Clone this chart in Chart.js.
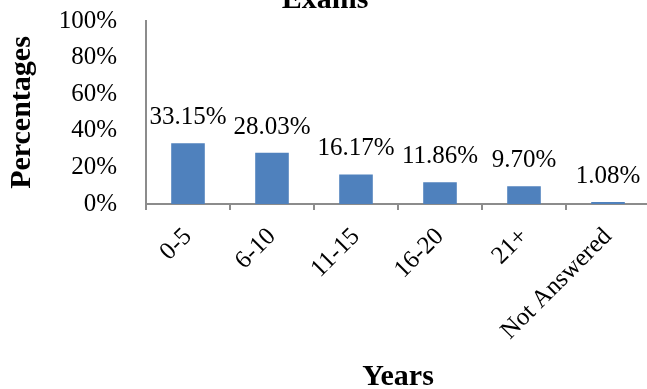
<!DOCTYPE html>
<html>
<head>
<meta charset="utf-8">
<script src="https://cdn.jsdelivr.net/npm/chart.js@4/dist/chart.umd.min.js"></script>
<style>
  html, body { margin: 0; padding: 0; background: #fff; }
  #frame { position: relative; width: 647px; height: 389px; overflow: hidden; background: #fff; }
  #holder { position: absolute; left: 0; top: -23px; width: 652px; height: 418px; }
</style>
</head>
<body>
<div id="frame"><div id="holder"><canvas id="chart"></canvas></div></div>
<script>
// Years of experience groups and the share of respondents in each
const categories = ['0-5', '6-10', '11-15', '16-20', '21+', 'Not Answered'];
const percentages = [33.15, 28.03, 16.17, 11.86, 9.70, 1.08];
const yTicks = [0, 20, 40, 60, 80, 100];

const serif = "'Liberation Serif', 'Times New Roman', serif";
const axisGray = '#8c8c8c';

// Writes each bar's value just above it
const valueLabels = {
  id: 'valueLabels',
  afterDatasetsDraw(chart) {
    const ctx = chart.ctx;
    const meta = chart.getDatasetMeta(0);
    ctx.save();
    ctx.font = '25px ' + serif;
    ctx.fillStyle = '#000';
    ctx.textAlign = 'center';
    ctx.textBaseline = 'alphabetic';
    meta.data.forEach((bar, i) => {
      const v = chart.data.datasets[0].data[i];
      ctx.fillText(v.toFixed(2) + '%', bar.x, bar.y - 19);
    });
    ctx.restore();
  }
};

new Chart(document.getElementById('chart'), {
  type: 'bar',
  data: {
    labels: categories,
    datasets: [{
      data: percentages,
      backgroundColor: '#4f81bd',
      borderWidth: 0,
      barPercentage: 0.4,
      categoryPercentage: 1.0
    }]
  },
  options: {
    responsive: true,
    maintainAspectRatio: false,
    animation: false,
    layout: { padding: { left: 0, right: 2, top: 0, bottom: 0 } },
    plugins: {
      legend: { display: false },
      tooltip: { enabled: false },
      title: {
        display: true,
        text: 'Exams',
        color: '#000',
        font: { family: serif, size: 30, weight: 'bold', lineHeight: 1.2 },
        padding: { top: 2, bottom: 3 }
      }
    },
    scales: {
      x: {
        grid: {
          display: true,
          drawOnChartArea: false,
          drawTicks: true,
          tickLength: 6,
          color: axisGray,
          lineWidth: 2
        },
        border: { display: true, color: axisGray, width: 2 },
        ticks: {
          color: '#000',
          font: { family: serif, size: 25, lineHeight: 0.2 },
          minRotation: 45,
          maxRotation: 45,
          autoSkip: false,
          padding: 21
        },
        title: {
          display: true,
          text: 'Years',
          color: '#000',
          font: { family: serif, size: 30, weight: 'bold', lineHeight: 1.2 },
          padding: { top: 0, bottom: 0 }
        },
        afterFit(scale) { scale.height = 191; }
      },
      y: {
        min: 0,
        max: 100,
        afterBuildTicks(scale) { scale.ticks = yTicks.map(v => ({ value: v })); },
        grid: { display: false, drawTicks: false },
        border: { display: true, color: axisGray, width: 2 },
        ticks: {
          color: '#000',
          font: { family: serif, size: 25 },
          padding: 29,
          callback: v => v + '%'
        },
        title: {
          display: true,
          text: 'Percentages',
          color: '#000',
          font: { family: serif, size: 30, weight: 'bold', lineHeight: 1.2 },
          padding: { top: 4, bottom: 0 }
        },
        afterFit(scale) { scale.width = 146; }
      }
    }
  },
  plugins: [valueLabels]
});
</script>
</body>
</html>
